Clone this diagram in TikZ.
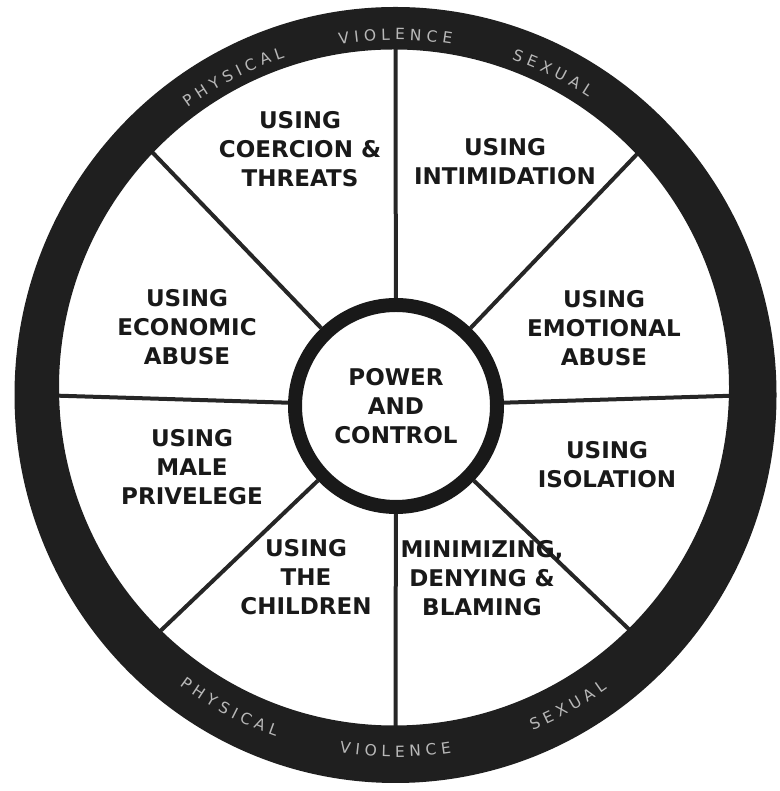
\documentclass[tikz,border=0pt]{standalone}
\usepackage{fontspec}
\setmainfont{DejaVu Sans}
\newfontfamily\ringfont{DejaVu Sans}
\usetikzlibrary{decorations.text, calc}

\tikzset{
  tactic/.style={font=\fontsize{23}{29}\selectfont\bfseries, align=center, text=black!90},
  spoke/.style={line width=4pt, black!85},
  ringword/.style={decorate, decoration={text along path, text align=center,
      text color=white!72!black, text={|\ringfont\fontsize{15.5}{15.5}\selectfont|#1}}}
}

\begin{document}
\begin{tikzpicture}[x=1pt, y=1pt]

        \useasboundingbox (0,0) rectangle (779,791);

        % Hub
        \node[circle, draw=black!90, line width=14pt, fill=white, minimum size=202pt,
              inner sep=0pt, tactic] (hub) at (396,385) {POWER\\AND\\CONTROL};

        % Spokes out to the rim
        \coordinate (wc) at (395.5,396);
        \foreach \a in {0,45,...,315}
            \coordinate (rim\a) at ($(wc)+(\a:360)$);
        \foreach \a in {0,45,...,315}
            \draw[spoke] (hub) -- (rim\a);

        % Outer ring
        \fill[black!88, even odd rule] (wc) ellipse[x radius=381pt, y radius=388pt]
            (394,403.5) ellipse[x radius=335pt, y radius=338pt];

        % Ring words
        \path[ringword={V I O L E N C E}] ($(wc)+(110:355)$) arc[start angle=110, end angle=70, radius=355pt];
        \path[ringword={P H Y S I C A L}] ($(wc)+(137:355)$) arc[start angle=137, end angle=97, radius=355pt];
        \path[ringword={S E X U A L}] ($(wc)+(84:355)$) arc[start angle=84, end angle=44, radius=355pt];
        \path[ringword={V I O L E N C E}] ($(wc)+(250:362)$) arc[start angle=250, end angle=290, radius=362pt];
        \path[ringword={P H Y S I C A L}] ($(wc)+(222:362)$) arc[start angle=222, end angle=262, radius=362pt];
        \path[ringword={S E X U A L}] ($(wc)+(279:362)$) arc[start angle=279, end angle=319, radius=362pt];

        % Tactics
        \node[tactic] (coercion) at (300,642) {USING\\COERCION \&\\THREATS};
        \node[tactic] (intimidation) at (505,629) {USING\\INTIMIDATION};
        \node[tactic] (economic) at (187,464) {USING\\ECONOMIC\\ABUSE};
        \node[tactic] (emotional) at (604,463) {USING\\EMOTIONAL\\ABUSE};
        \node[tactic] (privilege) at (192,324) {USING\\MALE\\PRIVELEGE};
        \node[tactic] (isolation) at (607,326) {USING\\ISOLATION};
        \node[tactic] (children) at (306,214) {USING\\THE\\CHILDREN};
        \node[tactic] (minimizing) at (482,213) {MINIMIZING,\\DENYING \&\\BLAMING};

\end{tikzpicture}
\end{document}
